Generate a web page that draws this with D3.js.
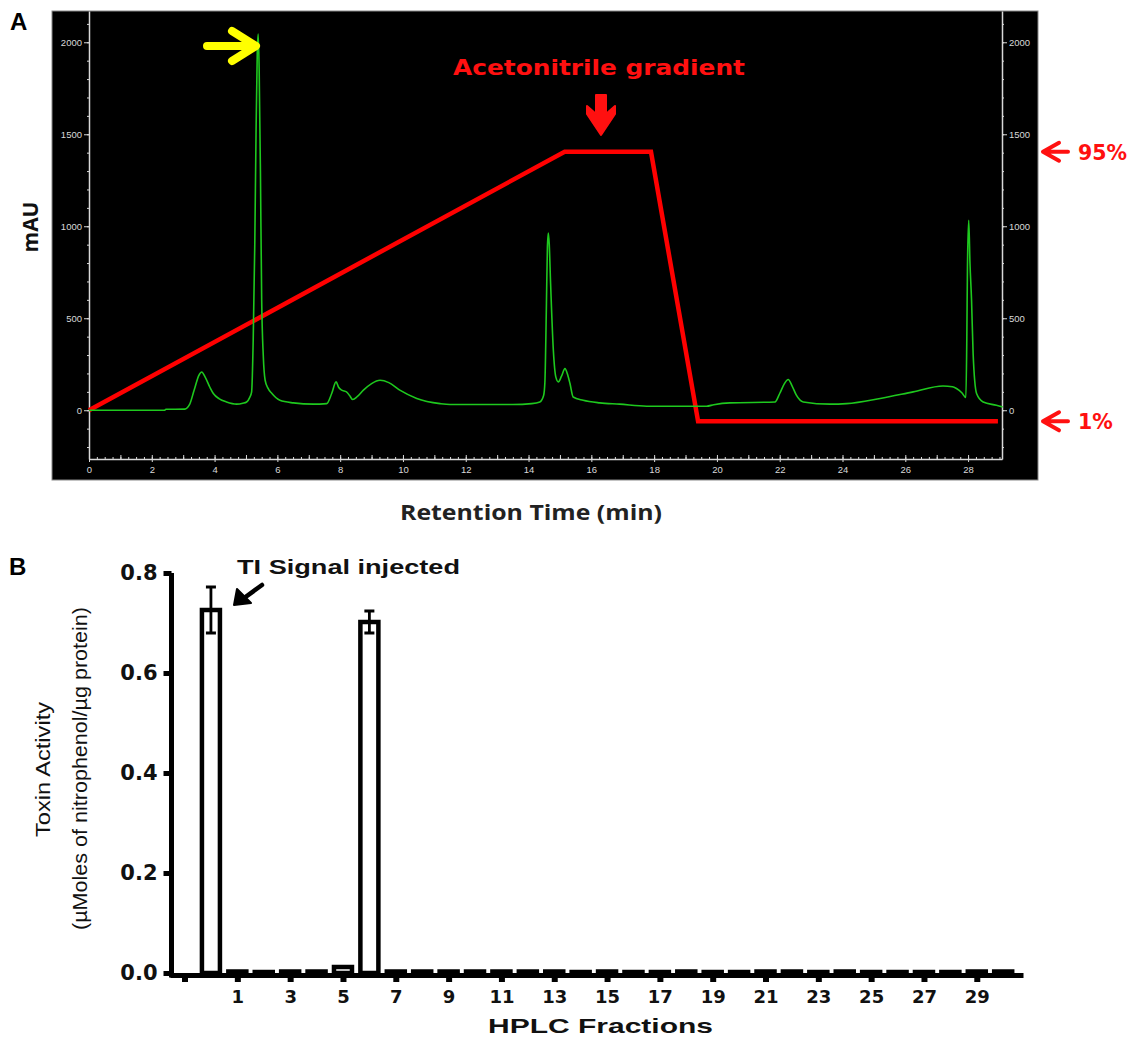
<!DOCTYPE html>
<html>
<head>
<meta charset="utf-8">
<script src="https://cdn.jsdelivr.net/npm/d3@7"></script>
<style>
  html, body { margin: 0; padding: 0; background: #fff; }
  svg { display: block; }
</style>
</head>
<body>
<svg id="fig" width="1134" height="1038"></svg>
<script>
// ---------- Panel A: HPLC chromatogram (absorbance vs retention time) ----------
const traceTime = [0, 2.4, 2.45, 3.05, 3.2, 3.35, 3.5, 3.59, 3.7, 3.85, 3.96, 4.15, 4.38, 4.7, 4.9, 5.02, 5.12, 5.18,
  5.23, 5.28, 5.32, 5.36, 5.39, 5.42, 5.46, 5.5, 5.55, 5.61, 5.7, 5.82, 6.08, 6.51, 7.14, 7.57, 7.73, 7.87, 7.95,
  8.05, 8.2, 8.3, 8.4, 8.55, 8.74, 9.0, 9.27, 9.55, 9.9, 10.44, 11.18, 11.5, 13.5, 14.1, 14.36, 14.48, 14.52, 14.57,
  14.6, 14.63, 14.66, 14.7, 14.79, 14.87, 14.95, 15.05, 15.16, 15.25, 15.32, 15.42, 15.74, 16.27, 16.9, 17.76, 19.67,
  19.9, 20.41, 21.85, 22.0, 22.15, 22.27, 22.4, 22.53, 22.75, 23.6, 24.13, 25.2, 26.25, 27.2, 27.5, 27.63, 27.8,
  27.93, 27.96, 27.98, 28.02, 28.06, 28.11, 28.16, 28.27, 28.48, 28.9, 29.1];
const traceMAU = [0, 0, 5, 6, 30, 110, 190, 208, 180, 125, 91, 62, 45, 33, 38, 45, 70, 100,
  380, 900, 1500, 1950, 2045, 1850, 1300, 600, 300, 163, 120, 92, 54, 40, 33, 36, 91, 154, 125,
  109, 100, 80, 58, 75, 109, 145, 163, 150, 109, 64, 36, 31, 31, 36, 45, 80, 150, 580,
  880, 963, 900, 700, 326, 180, 154, 185, 226, 190, 145, 72, 54, 40, 33, 22, 22,
  30, 40, 45, 91, 145, 167, 130, 82, 45, 33, 36, 64, 100, 132, 128, 118, 95,
  69, 400, 779, 1033, 799, 598, 308, 91, 45, 27, 18];

// Acetonitrile gradient overlay, expressed on the mAU axis
const gradientTime = [0, 15.15, 17.9, 19.4, 28.95];
const gradientLevel = [0, 1405, 1405, -60, -60];
const gradientLabels = [{ text: "95%", level: 1405 }, { text: "1%", level: -60 }];

const timeTicks = [0, 2, 4, 6, 8, 10, 12, 14, 16, 18, 20, 22, 24, 26, 28];
const mauTicks = [0, 500, 1000, 1500, 2000];

// ---------- Panel B: toxin activity of HPLC fractions ----------
const fractions = [0, 1, 2, 3, 4, 5, 6, 7, 8, 9, 10, 11, 12, 13, 14, 15, 16, 17, 18, 19, 20, 21, 22, 23, 24, 25, 26, 27, 28, 29, 30];
const activity = [0.726, 0.003, 0.002, 0.003, 0.003, 0.012, 0.702, 0.003, 0.003, 0.003, 0.003, 0.003, 0.003, 0.003, 0.002,
  0.003, 0.002, 0.002, 0.003, 0.002, 0.002, 0.003, 0.003, 0.002, 0.003, 0.002, 0.002, 0.002, 0.002, 0.003, 0.003];
const activityErr = [0.046, 0, 0, 0, 0, 0, 0.022, 0, 0, 0, 0, 0, 0, 0, 0, 0, 0, 0, 0, 0, 0, 0, 0, 0, 0, 0, 0, 0, 0, 0, 0];
const fractionTicks = [-1, 1, 3, 5, 7, 9, 11, 13, 15, 17, 19, 21, 23, 25, 27, 29];
const fractionTickLabels = ["", "1", "3", "5", "7", "9", "11", "13", "15", "17", "19", "21", "23", "25", "27", "29"];
const activityTicks = [0, 0.2, 0.4, 0.6, 0.8];

const svg = d3.select("#fig");
svg.append("rect").attr("width", 1134).attr("height", 1038).attr("fill", "#fff");

// ===== Panel A =====
const A = svg.append("g");
A.append("rect").attr("x", 52).attr("y", 11).attr("width", 986).attr("height", 469)
  .attr("fill", "#000").attr("stroke", "#888").attr("stroke-width", 1);

const xA = d3.scaleLinear().domain([0, 29.08]).range([89, 1002]);
const yA = d3.scaleLinear().domain([-265, 2170]).range([459, 11]);
const axisCol = "#d8d8d8";
const tickFont = "'Liberation Sans Narrow', 'Arial Narrow', Arial, sans-serif";
const wideBold = "'DejaVu Sans', Verdana, sans-serif";

function styleChromAxis(g) {
  g.selectAll("path.domain").attr("stroke", axisCol).attr("stroke-width", 1.5);
  g.selectAll(".tick line").attr("stroke", axisCol).attr("stroke-width", 1);
  g.selectAll(".tick text").attr("fill", axisCol).attr("font-size", 9.5).attr("font-family", tickFont);
}

// minor ticks
const minorTime = d3.range(0, 29.01, 0.25);
A.append("g").attr("transform", "translate(0,459)")
  .call(d3.axisTop(xA).tickValues(minorTime).tickSize(2).tickFormat(""))
  .call(g => { g.select(".domain").remove(); g.selectAll("line").attr("stroke", axisCol); });
A.append("g").attr("transform", "translate(0,459)")
  .call(d3.axisTop(xA).tickValues(d3.range(0, 29, 1)).tickSize(4).tickFormat(""))
  .call(g => { g.select(".domain").remove(); g.selectAll("line").attr("stroke", axisCol); });
A.append("g").attr("transform", "translate(0,459)")
  .call(d3.axisBottom(xA).tickValues(timeTicks).tickSize(3).tickSizeOuter(0).tickPadding(4).tickFormat(d3.format("d")))
  .call(styleChromAxis);

const minorMAU = d3.range(-200, 2101, 100);
[[89, d3.axisLeft], [1002, d3.axisRight]].forEach(([xp, ax]) => {
  A.append("g").attr("transform", `translate(${xp},0)`)
    .call(ax(yA).tickValues(minorMAU).tickSize(2).tickFormat(""))
    .call(g => { g.select(".domain").remove(); g.selectAll("line").attr("stroke", axisCol); });
  A.append("g").attr("transform", `translate(${xp},0)`)
    .call(ax(yA).tickValues(mauTicks).tickSize(5).tickSizeOuter(0).tickPadding(2).tickFormat(d3.format("d")))
    .call(styleChromAxis);
});

// gradient overlay
const gradLine = d3.line().x((d, i) => xA(gradientTime[i])).y((d, i) => yA(gradientLevel[i]));
A.append("path").attr("d", gradLine(gradientTime)).attr("fill", "none")
  .attr("stroke", "#ff0000").attr("stroke-width", 4.5).attr("stroke-linejoin", "miter");

// chromatogram trace
const traceLine = d3.line().x((d, i) => xA(traceTime[i])).y((d, i) => yA(traceMAU[i])).curve(d3.curveMonotoneX);
A.append("path").attr("d", traceLine(traceTime)).attr("fill", "none")
  .attr("stroke", "#1ec81e").attr("stroke-width", 1.6);

// axis titles
A.append("text").attr("transform", "translate(38,227) rotate(-90)").attr("text-anchor", "middle")
  .attr("font-family", "'Open Sans', Arial, sans-serif").attr("font-weight", "bold").attr("font-size", 21)
  .attr("fill", "#111").text("mAU");
A.append("text").attr("x", 400).attr("y", 520)
  .attr("font-family", "'Open Sans', Arial, sans-serif").attr("font-weight", "bold").attr("font-size", 21)
  .attr("textLength", 262).attr("lengthAdjust", "spacingAndGlyphs")
  .attr("fill", "#222").text("Retention Time (min)");
svg.append("text").attr("x", 10).attr("y", 30).attr("font-family", "'Liberation Sans', Arial, sans-serif")
  .attr("font-weight", "bold").attr("font-size", 24).text("A");

// annotations: gradient label and arrows
A.append("text").attr("x", 453).attr("y", 75)
  .attr("font-family", wideBold).attr("font-weight", "bold").attr("font-size", 21)
  .attr("textLength", 292).attr("lengthAdjust", "spacingAndGlyphs")
  .attr("fill", "#ff1010").text("Acetonitrile gradient");
const dArrowX = 601;
A.append("path").attr("fill", "#ff1010").attr("stroke", "#ff1010").attr("stroke-width", 2).attr("stroke-linejoin", "round")
  .attr("d", `M${dArrowX - 5},95 L${dArrowX + 5},95 L${dArrowX + 5},114 L${dArrowX + 14},106 L${dArrowX + 14},114 L${dArrowX},135 L${dArrowX - 14},114 L${dArrowX - 14},106 L${dArrowX - 5},114 Z`);

gradientLabels.forEach(lb => {
  const yy = yA(lb.level);
  svg.append("path").attr("fill", "none").attr("stroke", "#ff1010").attr("stroke-width", 4)
    .attr("stroke-linecap", "round").attr("stroke-linejoin", "round")
    .attr("d", `M1068,${yy} L1043,${yy} M1059,${yy - 9} L1043,${yy} L1059,${yy + 9}`);
  svg.append("text").attr("x", 1078).attr("y", yy + 8)
    .attr("font-family", wideBold).attr("font-weight", "bold").attr("font-size", 20.5)
    .attr("fill", "#ff1010").text(lb.text);
});

// yellow marker at the main peak
A.append("path").attr("fill", "none").attr("stroke", "#ffff00").attr("stroke-width", 8)
  .attr("stroke-linecap", "round").attr("stroke-linejoin", "round")
  .attr("d", "M207,46 L254,46 M232,31 L256,46 L232,61");

// ===== Panel B =====
const B = svg.append("g");
const xB = d3.scaleLinear().domain([-1.55, 30.75]).range([170, 1023]);
const yB = d3.scaleLinear().domain([0, 0.8]).range([973, 573]);
const armFont = "'Liberation Sans', Arial, Helvetica, sans-serif";

// bars
const barW = 18;
B.selectAll("rect.bar").data(fractions).join("rect").attr("class", "bar")
  .attr("x", d => xB(d) - barW / 2).attr("width", barW)
  .attr("y", (d, i) => yB(activity[i])).attr("height", (d, i) => yB(0) - yB(activity[i]))
  .attr("fill", "#fff").attr("stroke", "#000").attr("stroke-width", 4.5);

// error bars
const errIdx = fractions.map((d, i) => i).filter(i => activityErr[i] > 0);
errIdx.forEach(i => {
  const cx = xB(fractions[i]);
  const top = yB(activity[i] + activityErr[i]), bot = yB(activity[i] - activityErr[i]);
  B.append("path").attr("fill", "none").attr("stroke", "#000").attr("stroke-width", 2.8)
    .attr("d", `M${cx},${top} L${cx},${bot} M${cx - 5},${top} L${cx + 5},${top} M${cx - 5},${bot} L${cx + 5},${bot}`);
});

// axes
B.append("g").attr("transform", "translate(0,975)")
  .call(d3.axisBottom(xB).tickValues(fractionTicks).tickSize(7).tickSizeOuter(0).tickPadding(8)
    .tickFormat((d, i) => fractionTickLabels[i]))
  .call(g => {
    g.select(".domain").attr("stroke", "#000").attr("stroke-width", 5);
    g.selectAll(".tick line").attr("stroke", "#000").attr("stroke-width", 6);
    g.selectAll(".tick text").attr("fill", "#111").attr("font-family", wideBold)
      .attr("font-weight", "bold").attr("font-size", 18);
  });
B.append("g").attr("transform", "translate(171.5,0)")
  .call(d3.axisLeft(yB).tickValues(activityTicks).tickSize(8).tickSizeOuter(0).tickPadding(6)
    .tickFormat(d3.format(".1f")))
  .call(g => {
    g.select(".domain").attr("stroke", "#000").attr("stroke-width", 5)
      .attr("d", `M0,${yB(0.8)}V${yB(0) + 4.5}`);
    g.selectAll(".tick line").attr("stroke", "#000").attr("stroke-width", 5);
    g.selectAll(".tick text").attr("fill", "#111").attr("font-family", wideBold)
      .attr("font-weight", "bold").attr("font-size", 21);
  });

// titles
B.append("text").attr("x", 488).attr("y", 1033)
  .attr("font-family", armFont).attr("font-weight", "bold").attr("font-size", 21)
  .attr("textLength", 225).attr("lengthAdjust", "spacingAndGlyphs").attr("fill", "#111")
  .text("HPLC Fractions");
B.append("text").attr("transform", "translate(50,837) rotate(-90)")
  .attr("font-family", armFont).attr("font-size", 21).attr("fill", "#111")
  .attr("textLength", 135).attr("lengthAdjust", "spacingAndGlyphs").text("Toxin  Activity");
B.append("text").attr("transform", "translate(87,930) rotate(-90)")
  .attr("font-family", armFont).attr("font-size", 21).attr("fill", "#111")
  .attr("textLength", 323).attr("lengthAdjust", "spacingAndGlyphs").text("(µMoles of nitrophenol/µg protein)");
svg.append("text").attr("x", 9).attr("y", 575).attr("font-family", armFont)
  .attr("font-weight", "bold").attr("font-size", 24).text("B");

// injected-signal callout
B.append("text").attr("x", 237).attr("y", 574).attr("font-family", armFont).attr("font-weight", "bold")
  .attr("font-size", 21).attr("textLength", 223).attr("lengthAdjust", "spacingAndGlyphs")
  .attr("fill", "#111").text("TI Signal injected");
B.append("path").attr("fill", "none").attr("stroke", "#000").attr("stroke-width", 4.5)
  .attr("stroke-linecap", "round").attr("stroke-linejoin", "round")
  .attr("d", "M262,585 L240,601");
B.append("path").attr("fill", "#000").attr("stroke", "#000").attr("stroke-width", 2).attr("stroke-linejoin", "round")
  .attr("d", "M234,605 L237,589 L251,603 Z");
</script>
</body>
</html>
